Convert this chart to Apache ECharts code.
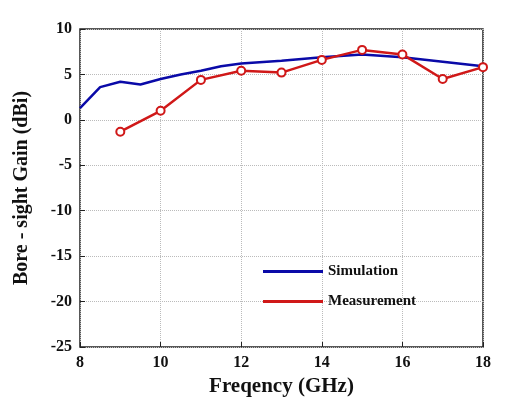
<!DOCTYPE html>
<html><head><meta charset="utf-8">
<script src="https://cdn.jsdelivr.net/npm/echarts@6/dist/echarts.min.js"></script>
<style>body{margin:0;background:#fff}#c{width:531px;height:420px}</style>
</head><body><div id="c"></div>
<script>
// bore-sight gain vs frequency
var simFreq = [8, 8.5, 9, 9.5, 10, 10.5, 11, 11.5, 12, 13, 14, 15, 16, 17, 18];
var simGain = [1.3, 3.6, 4.2, 3.9, 4.5, 5.0, 5.4, 5.9, 6.2, 6.5, 6.9, 7.2, 6.9, 6.4, 5.9];
var measFreq = [9, 10, 11, 12, 13, 14, 15, 16, 17, 18];
var measGain = [-1.3, 1.0, 4.4, 5.4, 5.2, 6.6, 7.7, 7.2, 4.5, 5.8];

var pairs = function (xs, ys) {
	return xs.map(function (x, i) { return [x, ys[i]]; });
};

var font = 'Liberation Serif';
var option = {
	animation: false,
	grid: { left: 80, right: 48, top: 29, bottom: 73, show: true, borderColor: '#222', borderWidth: 1.5 },
	xAxis: {
		type: 'value', min: 8, max: 18, interval: 2,
		name: 'Freqency (GHz)', nameLocation: 'middle', nameGap: 28,
		nameTextStyle: { fontFamily: font, fontWeight: 'bold', fontSize: 21, color: '#111' },
		axisLine: { show: false, onZero: false },
		axisTick: { inside: true, length: 5, lineStyle: { color: '#222' } },
		axisLabel: { fontFamily: font, fontWeight: 'bold', fontSize: 16, color: '#111' },
		splitLine: { lineStyle: { type: 'dotted', color: '#bbb' } }
	},
	yAxis: {
		type: 'value', min: -25, max: 10, interval: 5,
		name: 'Bore - sight Gain (dBi)', nameLocation: 'middle', nameGap: 48,
		nameTextStyle: { fontFamily: font, fontWeight: 'bold', fontSize: 20, color: '#111' },
		axisLine: { show: false, onZero: false },
		axisTick: { inside: true, length: 5, lineStyle: { color: '#222' } },
		axisLabel: { fontFamily: font, fontWeight: 'bold', fontSize: 16, color: '#111' },
		splitLine: { lineStyle: { type: 'dotted', color: '#bbb' } }
	},
	legend: {
		orient: 'vertical', left: 258, top: 259, itemGap: 15, itemWidth: 60, itemHeight: 3,
		textStyle: { fontFamily: font, fontWeight: 'bold', fontSize: 15, color: '#111' },
		data: [
			{ name: 'Simulation', icon: 'rect', itemStyle: { color: '#0a0aa8', borderWidth: 0 } },
			{ name: 'Measurement', icon: 'rect', itemStyle: { color: '#d01818', borderWidth: 0 } }
		]
	},
	series: [
		{
			name: 'Simulation', type: 'line', data: pairs(simFreq, simGain),
			showSymbol: false, lineStyle: { color: '#0a0aa8', width: 2.5 }, itemStyle: { color: '#0a0aa8' }
		},
		{
			name: 'Measurement', type: 'line', data: pairs(measFreq, measGain),
			symbol: 'circle', symbolSize: 8,
			lineStyle: { color: '#d01818', width: 2.5 },
			itemStyle: { color: '#fff', borderColor: '#d01818', borderWidth: 2 }
		}
	]
};
var chart = echarts.init(document.getElementById('c'));
chart.setOption(option);
</script></body></html>
